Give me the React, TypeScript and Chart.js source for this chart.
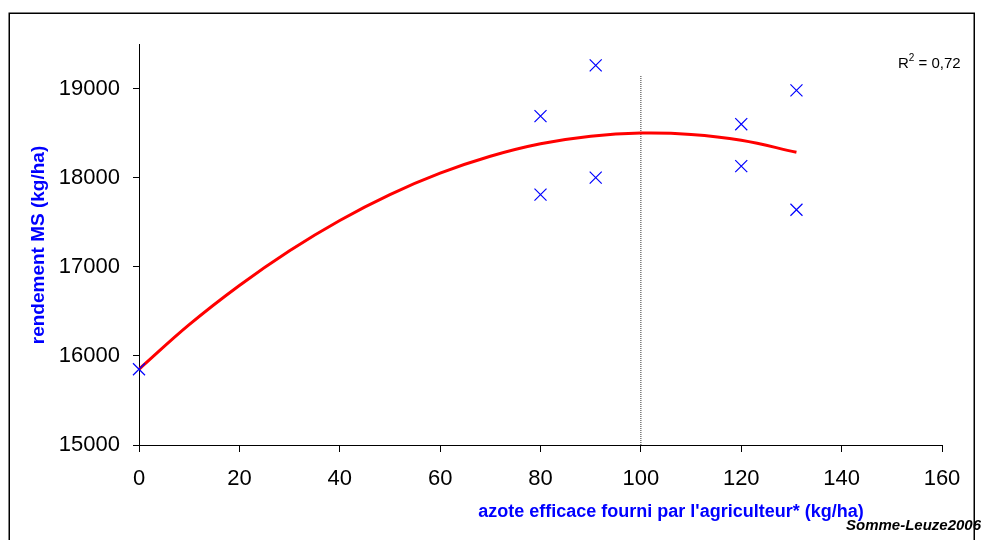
import React, { useEffect, useRef } from "react";
import { Chart, registerables } from "chart.js";

Chart.register(...registerables);

// Observed points (blue crosses)
const pointsX = [0, 80, 80, 91, 91, 120, 120, 131, 131];
const pointsY = [15850, 18690, 17810, 19260, 18000, 18600, 18130, 18980, 17640];

// Polynomial trend line
const trendX = [0, 10, 20, 30, 40, 50, 60, 70, 80, 90, 100, 110, 120, 131];
const trendY = [15850, 16350, 16790, 17180, 17520, 17810, 18050, 18240, 18380, 18465, 18500, 18485, 18420, 18285];

// Vertical dotted marker at the optimum
const optimumX = 100;
const optimumLineY = [15000, 19150];

// Axes
const xTicks = [0, 20, 40, 60, 80, 100, 120, 140, 160];
const yTicks = [15000, 16000, 17000, 18000, 19000];
const yMax = 19500;

const yTitle = "rendement MS (kg/ha)";
const xTitle = "azote efficace fourni par l'agriculteur* (kg/ha)";
const sourceText = "Somme-Leuze2006";
const r2Value = "0,72";

const FONT = "'Liberation Sans', Arial, sans-serif";
const BLUE = "#0000FF";

const decorPlugin = {
  id: "decor",
  afterDraw(chart: any) {
    const ctx = chart.ctx;
    ctx.save();
    // Y title
    ctx.fillStyle = BLUE;
    ctx.font = `bold 19px ${FONT}`;
    ctx.textAlign = "center";
    ctx.textBaseline = "middle";
    ctx.save();
    ctx.translate(39, 245);
    ctx.rotate(-Math.PI / 2);
    ctx.fillText(yTitle, 0, 0);
    ctx.restore();
    // X title
    ctx.font = `bold 18px ${FONT}`;
    ctx.fillText(xTitle, 671, 512);
    // Source text
    ctx.fillStyle = "#000";
    ctx.textAlign = "left";
    ctx.textBaseline = "alphabetic";
    ctx.font = `italic bold 15px ${FONT}`;
    ctx.fillText(sourceText, 846, 530);
    // R²
    ctx.font = `15px ${FONT}`;
    let x = 898;
    ctx.fillText("R", x, 68);
    x += ctx.measureText("R").width;
    ctx.font = `10px ${FONT}`;
    ctx.fillText("2", x, 61);
    x += ctx.measureText("2").width;
    ctx.font = `15px ${FONT}`;
    ctx.fillText(" = " + r2Value, x, 68);
    // Outer frame
    ctx.strokeStyle = "#000";
    ctx.lineWidth = 1.5;
    ctx.strokeRect(9.25, 13.25, 965, 600);
    ctx.restore();
  },
};

export default function App() {
  const ref = useRef<HTMLCanvasElement>(null);
  useEffect(() => {
    if (!ref.current) return;
    const chart = new Chart(ref.current, {
      type: "scatter",
      data: {
        datasets: [
          {
            label: "optimum",
            data: optimumLineY.map((y) => ({ x: optimumX, y })),
            showLine: true,
            borderColor: "#333",
            borderWidth: 1,
            borderDash: [1, 1],
            pointRadius: 0,
            pointHoverRadius: 0,
            order: 3,
          } as any,
          {
            label: "trend",
            data: trendX.map((x, i) => ({ x, y: trendY[i] })),
            showLine: true,
            borderColor: "#FF0000",
            borderWidth: 3,
            pointRadius: 0,
            pointHoverRadius: 0,
            tension: 0.4,
            clip: false,
            order: 2,
          } as any,
          {
            label: "points",
            data: pointsX.map((x, i) => ({ x, y: pointsY[i] })),
            pointStyle: "crossRot",
            pointRadius: 8.5,
            pointHoverRadius: 8.5,
            pointBorderWidth: 1.2,
            pointBorderColor: BLUE,
            borderColor: BLUE,
            showLine: false,
            clip: false,
            order: 1,
          } as any,
        ],
      },
      options: {
        animation: false,
        responsive: false,
        devicePixelRatio: 1,
        events: [],
        layout: { padding: { top: 44, right: 39, left: 0, bottom: 0 } },
        plugins: {
          legend: { display: false },
          tooltip: { enabled: false },
        },
        scales: {
          x: {
            type: "linear",
            min: xTicks[0],
            max: xTicks[xTicks.length - 1],
            afterBuildTicks(scale: any) {
              scale.ticks = xTicks.map((v) => ({ value: v }));
            },
            ticks: {
              autoSkip: false,
              color: "#000",
              font: { family: FONT, size: 22 },
              padding: 14,
              maxRotation: 0,
              callback: (v: any) => String(v),
            },
            grid: { display: true, drawOnChartArea: false, drawTicks: true, tickLength: 7, color: "#000" },
            border: { display: true, color: "#000", width: 1 },
            afterFit(scale: any) {
              scale.height = 95;
            },
          },
          y: {
            type: "linear",
            min: yTicks[0],
            max: yMax,
            afterBuildTicks(scale: any) {
              scale.ticks = yTicks.map((v) => ({ value: v }));
            },
            ticks: {
              autoSkip: false,
              color: "#000",
              font: { family: FONT, size: 22 },
              padding: 13,
              callback: (v: any) => String(v),
            },
            grid: { display: true, drawOnChartArea: false, drawTicks: true, tickLength: 6, color: "#000" },
            border: { display: true, color: "#000", width: 1 },
            afterFit(scale: any) {
              scale.width = 139;
            },
          },
        },
      } as any,
      plugins: [decorPlugin],
    });
    return () => chart.destroy();
  }, []);
  return (
    <div style={{ position: "absolute", left: 0, top: 0, width: 981, height: 540, background: "#fff" }}>
      <canvas ref={ref} width={981} height={540} style={{ display: "block" }} />
    </div>
  );
}
